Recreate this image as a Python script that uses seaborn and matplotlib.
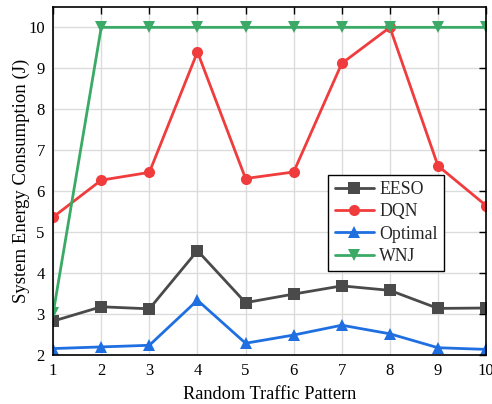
import matplotlib
matplotlib.use("Agg")
import matplotlib.pyplot as plt
import seaborn as sns
import pandas as pd

patterns = [1, 2, 3, 4, 5, 6, 7, 8, 9, 10]
eeso = [2.83, 3.18, 3.13, 4.55, 3.28, 3.49, 3.69, 3.58, 3.14, 3.15]
dqn = [5.37, 6.27, 6.46, 9.40, 6.31, 6.47, 9.12, 10.0, 6.62, 5.65]
optimal = [2.16, 2.20, 2.24, 3.34, 2.29, 2.49, 2.73, 2.52, 2.18, 2.14]
wnj = [3.02, 10.0, 10.0, 10.0, 10.0, 10.0, 10.0, 10.0, 10.0, 10.0]
series_names = ["EESO", "DQN", "Optimal", "WNJ"]
colors = ["#4a4a4a", "#f03c3c", "#1f6fe0", "#3aaa66"]
markers = ["s", "o", "^", "v"]

rows = []
for name, vals in zip(series_names, [eeso, dqn, optimal, wnj]):
    for p, v in zip(patterns, vals):
        rows.append({"Pattern": p, "Energy": v, "Method": name})
df = pd.DataFrame(rows)

sns.set_theme(style="whitegrid")
plt.rcParams["font.family"] = ["Liberation Serif", "DejaVu Serif"]

fig = plt.figure(figsize=(4.92, 4.04), dpi=100)
ax = fig.add_axes([0.108, 0.121, 0.88, 0.862])

sns.lineplot(data=df, x="Pattern", y="Energy", hue="Method", style="Method",
             hue_order=series_names, style_order=series_names,
             palette=dict(zip(series_names, colors)),
             markers=dict(zip(series_names, markers)), dashes=False,
             linewidth=2.0, markersize=8, markeredgewidth=0,
             ax=ax, legend=True)

ax.set_xlim(1, 10)
ax.set_ylim(2, 10.5)
ax.set_xticks(patterns)
ax.set_yticks([2, 3, 4, 5, 6, 7, 8, 9, 10])
ax.set_xlabel("Random Traffic Pattern", fontsize=13.2, color="black", labelpad=4.5)
ax.set_ylabel("System Energy Consumption (J)", fontsize=13.5, color="black", labelpad=-1)
ax.grid(True, color="#dcdcdc", linewidth=1.0)
ax.set_facecolor("white")
for s in ax.spines.values():
    s.set_color("black")
    s.set_linewidth(1.2)
ax.tick_params(axis="both", which="major", direction="in", length=5, width=1.0,
               colors="black", labelsize=12, top=True, right=True,
               labeltop=False, labelright=False, pad=6)

leg = ax.legend(loc="upper left", bbox_to_anchor=(0.636, 0.518), fontsize=12.8,
                frameon=True, fancybox=False, framealpha=1, edgecolor="black",
                handlelength=2.2, handletextpad=0.3, borderpad=0.35,
                labelspacing=0.3, borderaxespad=0)
leg.get_frame().set_linewidth(1.0)

fig.savefig("out.png", dpi=100)
